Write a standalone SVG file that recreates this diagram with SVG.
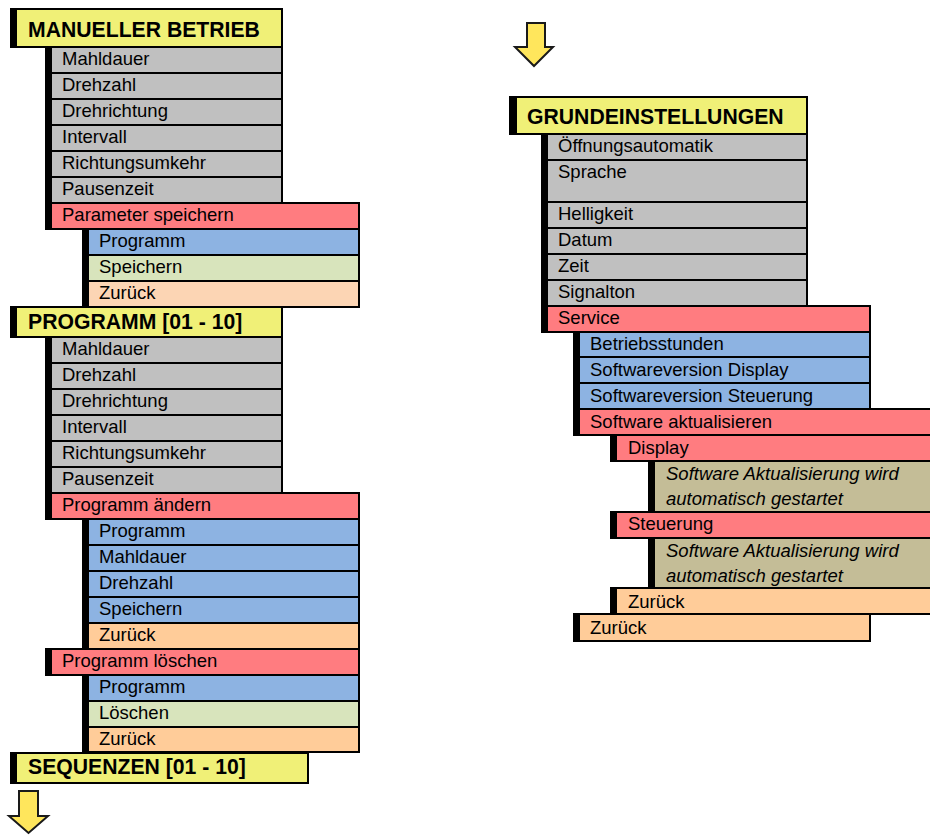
<svg xmlns="http://www.w3.org/2000/svg" width="930" height="835" viewBox="0 0 930 835">
<style>
  rect.b { stroke: #000; stroke-width: 2; }
  .bar { fill: #000; }
  .hdr { fill: #F0F077; }
  .gry { fill: #C0C0C0; }
  .red { fill: #FF7C80; }
  .blu { fill: #8DB3E2; }
  .grn { fill: #D8E4BC; }
  .pc1 { fill: #FCD5B4; }
  .pc2 { fill: #FFCC99; }
  .kha { fill: #C4BD97; }
  text { font-family: "Liberation Sans", Arial, sans-serif; font-size: 18.5px; fill: #000; }
  text.h { font-weight: bold; font-size: 21.2px; }
  text.i { font-style: italic; }
  .arrow { fill: #FFE65C; stroke: #1a1a1a; stroke-width: 2; stroke-linejoin: miter; }
</style>
<rect width="930" height="835" fill="#fff"/>

<!-- ===== Section 1: MANUELLER BETRIEB ===== -->
<g id="manueller-betrieb">
  <rect class="bar" x="10" y="8" width="6" height="40"/>
  <rect class="b hdr" x="16" y="9" width="266" height="38"/>
  <text class="h" x="28" y="37">MANUELLER BETRIEB</text>
</g>
<g id="mb-items">
  <rect class="b gry" x="51" y="47" width="231" height="26"/><text x="62" y="65">Mahldauer</text>
  <rect class="b gry" x="51" y="73" width="231" height="26"/><text x="62" y="91">Drehzahl</text>
  <rect class="b gry" x="51" y="99" width="231" height="26"/><text x="62" y="117">Drehrichtung</text>
  <rect class="b gry" x="51" y="125" width="231" height="26"/><text x="62" y="143">Intervall</text>
  <rect class="b gry" x="51" y="151" width="231" height="26"/><text x="62" y="169">Richtungsumkehr</text>
  <rect class="b gry" x="51" y="177" width="231" height="26"/><text x="62" y="195">Pausenzeit</text>
</g>
<g id="mb-parameter-speichern">
  <rect class="b red" x="51" y="203" width="308" height="26"/><text x="62" y="221">Parameter speichern</text>
  <rect class="bar" x="45" y="46" width="6" height="184"/>
</g>
<g id="mb-ps-items">
  <rect class="bar" x="82" y="228" width="6" height="80"/>
  <rect class="b blu" x="88" y="229" width="271" height="26"/><text x="99" y="247">Programm</text>
  <rect class="b grn" x="88" y="255" width="271" height="26"/><text x="99" y="273">Speichern</text>
  <rect class="b pc1" x="88" y="281" width="271" height="26"/><text x="99" y="299">Zurück</text>
</g>

<!-- ===== Section 2: PROGRAMM ===== -->
<g id="programm">
  <rect class="bar" x="10" y="306" width="6" height="32"/>
  <rect class="b hdr" x="16" y="307" width="266" height="30"/>
  <text class="h" x="28" y="329">PROGRAMM [01 - 10]</text>
</g>
<g id="pr-items">
  <rect class="b gry" x="51" y="337" width="231" height="26"/><text x="62" y="355">Mahldauer</text>
  <rect class="b gry" x="51" y="363" width="231" height="26"/><text x="62" y="381">Drehzahl</text>
  <rect class="b gry" x="51" y="389" width="231" height="26"/><text x="62" y="407">Drehrichtung</text>
  <rect class="b gry" x="51" y="415" width="231" height="26"/><text x="62" y="433">Intervall</text>
  <rect class="b gry" x="51" y="441" width="231" height="26"/><text x="62" y="459">Richtungsumkehr</text>
  <rect class="b gry" x="51" y="467" width="231" height="26"/><text x="62" y="485">Pausenzeit</text>
</g>
<g id="pr-programm-aendern">
  <rect class="b red" x="51" y="493" width="308" height="26"/><text x="62" y="511">Programm ändern</text>
  <rect class="bar" x="45" y="336" width="6" height="184"/>
</g>
<g id="pr-pa-items">
  <rect class="bar" x="82" y="518" width="6" height="132"/>
  <rect class="b blu" x="88" y="519" width="271" height="26"/><text x="99" y="537">Programm</text>
  <rect class="b blu" x="88" y="545" width="271" height="26"/><text x="99" y="563">Mahldauer</text>
  <rect class="b blu" x="88" y="571" width="271" height="26"/><text x="99" y="589">Drehzahl</text>
  <rect class="b blu" x="88" y="597" width="271" height="26"/><text x="99" y="615">Speichern</text>
  <rect class="b pc2" x="88" y="623" width="271" height="26"/><text x="99" y="641">Zurück</text>
</g>
<g id="pr-programm-loeschen">
  <rect class="b red" x="51" y="649" width="308" height="26"/><text x="62" y="667">Programm löschen</text>
  <rect class="bar" x="45" y="648" width="6" height="28"/>
</g>
<g id="pr-pl-items">
  <rect class="bar" x="82" y="674" width="6" height="79"/>
  <rect class="b blu" x="88" y="675" width="271" height="26"/><text x="99" y="693">Programm</text>
  <rect class="b grn" x="88" y="701" width="271" height="26"/><text x="99" y="719">Löschen</text>
  <rect class="b pc2" x="88" y="727" width="271" height="25"/><text x="99" y="745">Zurück</text>
</g>

<!-- ===== Section 3: SEQUENZEN ===== -->
<g id="sequenzen">
  <rect class="bar" x="10" y="752" width="6" height="32"/>
  <rect class="b hdr" x="16" y="753" width="292" height="30"/>
  <text class="h" x="28" y="774">SEQUENZEN [01 - 10]</text>
</g>

<!-- ===== Right: GRUNDEINSTELLUNGEN ===== -->
<g id="grundeinstellungen">
  <rect class="bar" x="509" y="96" width="7" height="39"/>
  <rect class="b hdr" x="516" y="97" width="291" height="37"/>
  <text class="h" x="527" y="124">GRUNDEINSTELLUNGEN</text>
</g>
<g id="ge-items">
  <rect class="b gry" x="547" y="134" width="260" height="26"/><text x="558" y="152">Öffnungsautomatik</text>
  <rect class="b gry" x="547" y="160" width="260" height="42"/><text x="558" y="178">Sprache</text>
  <rect class="b gry" x="547" y="202" width="260" height="26"/><text x="558" y="220">Helligkeit</text>
  <rect class="b gry" x="547" y="228" width="260" height="26"/><text x="558" y="246">Datum</text>
  <rect class="b gry" x="547" y="254" width="260" height="26"/><text x="558" y="272">Zeit</text>
  <rect class="b gry" x="547" y="280" width="260" height="26"/><text x="558" y="298">Signalton</text>
</g>
<g id="ge-service">
  <rect class="b red" x="547" y="306" width="323" height="26"/><text x="558" y="324">Service</text>
  <rect class="bar" x="541" y="133" width="6" height="200"/>
</g>
<g id="ge-service-items">
  <rect class="b blu" x="579" y="332" width="291" height="25"/><text x="590" y="350">Betriebsstunden</text>
  <rect class="b blu" x="579" y="357" width="291" height="26"/><text x="590" y="376">Softwareversion Display</text>
  <rect class="b blu" x="579" y="383" width="291" height="26"/><text x="590" y="402">Softwareversion Steuerung</text>
</g>
<g id="ge-software-aktualisieren">
  <rect class="b red" x="579" y="409" width="360" height="26"/><text x="590" y="428">Software aktualisieren</text>
  <rect class="bar" x="573" y="331" width="6" height="105"/>
</g>
<g id="ge-sa-display">
  <rect class="bar" x="610" y="434" width="6" height="28"/>
  <rect class="b red" x="616" y="435" width="320" height="26"/><text x="628" y="454">Display</text>
</g>
<g id="ge-sa-display-info">
  <rect class="bar" x="648" y="460" width="6" height="53"/>
  <rect class="b kha" x="654" y="461" width="282" height="51"/>
  <text class="i" x="666" y="480">Software Aktualisierung wird</text>
  <text class="i" x="666" y="505">automatisch gestartet</text>
</g>
<g id="ge-sa-steuerung">
  <rect class="bar" x="610" y="511" width="6" height="28"/>
  <rect class="b red" x="616" y="512" width="320" height="26"/><text x="628" y="530">Steuerung</text>
</g>
<g id="ge-sa-steuerung-info">
  <rect class="bar" x="648" y="537" width="6" height="52"/>
  <rect class="b kha" x="654" y="538" width="282" height="50"/>
  <text class="i" x="666" y="557">Software Aktualisierung wird</text>
  <text class="i" x="666" y="582">automatisch gestartet</text>
</g>
<g id="ge-sa-zurueck">
  <rect class="bar" x="610" y="587" width="6" height="28"/>
  <rect class="b pc2" x="616" y="588" width="320" height="26"/><text x="628" y="608">Zurück</text>
</g>
<g id="ge-service-zurueck">
  <rect class="bar" x="573" y="613" width="6" height="29"/>
  <rect class="b pc2" x="579" y="614" width="291" height="27"/><text x="590" y="634">Zurück</text>
</g>

<!-- ===== Continuation arrows ===== -->
<g id="connectors">
  <polygon class="arrow" points="527,23 545,23 545,47 553,47 534,66 515,47 527,47"/>
  <polygon class="arrow" points="19,791 38,791 38,816 48,816 28.5,833 9,816 19,816"/>
</g>
</svg>
